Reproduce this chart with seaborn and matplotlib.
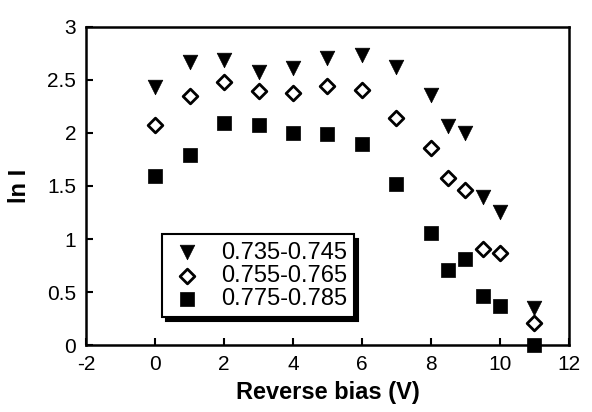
import numpy as np
import pandas as pd
import matplotlib
matplotlib.use("Agg")
import matplotlib.pyplot as plt
import seaborn as sns
from matplotlib.ticker import FormatStrFormatter

# values
bias = [0, 1, 2, 3, 4, 5, 6, 7, 8, 8.5, 9, 9.5, 10, 11]
ln_735 = [2.43, 2.67, 2.69, 2.58, 2.61, 2.71, 2.74, 2.62, 2.36, 2.07, 2.00, 1.40, 1.25, 0.35]
ln_755 = [2.08, 2.35, 2.48, 2.40, 2.38, 2.44, 2.41, 2.14, 1.86, 1.58, 1.46, 0.91, 0.87, 0.21]
ln_775 = [1.59, 1.79, 2.09, 2.08, 2.00, 1.99, 1.90, 1.52, 1.06, 0.71, 0.81, 0.46, 0.37, 0.00]
labels = ["0.735-0.745", "0.755-0.765", "0.775-0.785"]

sns.set_style("ticks")
plt.rcParams['font.family'] = ['Liberation Sans', 'DejaVu Sans']
plt.rcParams['axes.unicode_minus'] = False
plt.rcParams['text.color'] = 'black'
plt.rcParams['axes.labelcolor'] = 'black'
plt.rcParams['xtick.color'] = 'black'
plt.rcParams['ytick.color'] = 'black'
plt.rcParams['axes.edgecolor'] = 'black'

fig = plt.figure(figsize=(5.92, 4.12), dpi=100)
ax = fig.add_axes([0.1453, 0.1626, 0.8158, 0.7719])

series = [ln_735, ln_755, ln_775]
styles = [
    dict(marker='v', s=10.5**2, color='black', edgecolor='black', linewidth=0.5),
    dict(marker='D', s=7.5**2, color='white', edgecolor='black', linewidth=2),
    dict(marker='s', s=9.5**2, color='black', edgecolor='black', linewidth=0.5),
]
for vals, lab, st in zip(series, labels, styles):
    df = pd.DataFrame({'bias': bias, 'lnI': vals})
    sns.scatterplot(data=df, x='bias', y='lnI', ax=ax, label=lab, clip_on=False,
                    zorder=3, **st)

ax.set_xlim(-2, 12)
ax.set_ylim(0, 3)
ax.set_xticks(np.arange(-2, 13, 2))
ax.set_yticks(np.arange(0, 3.01, 0.5))
ax.yaxis.set_major_formatter(FormatStrFormatter('%g'))
ax.tick_params(direction='in', length=5, width=1.5, labelsize=15, pad=7)
for sp in ax.spines.values():
    sp.set_linewidth(1.8)
    sp.set_visible(True)

ax.set_xlabel("Reverse bias (V)", fontsize=17, fontweight='bold', labelpad=5)
ax.set_ylabel("ln I", fontsize=17, fontweight='bold', labelpad=12)

leg = ax.legend(loc='lower left', bbox_to_anchor=(0.157, 0.088), borderaxespad=0,
                fontsize=17, frameon=True, fancybox=False,
                shadow={'ox': 3, 'oy': -3, 'color': 'black', 'alpha': 1},
                handletextpad=0.7, labelspacing=0.05, borderpad=0.3,
                handlelength=1.5)
leg.get_frame().set_edgecolor('black')
leg.get_frame().set_linewidth(1.5)
leg.get_frame().set_alpha(1)

fig.savefig("out.png", dpi=100)
